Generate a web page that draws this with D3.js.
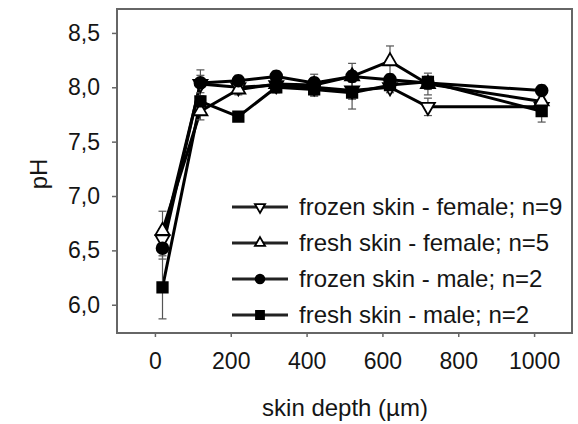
<!DOCTYPE html>
<html>
<head>
<meta charset="utf-8">
<script src="https://cdn.jsdelivr.net/npm/d3@7"></script>
<style>
  html, body { margin: 0; padding: 0; background: #fff; }
  svg { display: block; font-family: "Liberation Sans", Arial, Helvetica, sans-serif; }
</style>
</head>
<body>
<svg id="chart" width="578" height="424"></svg>
<script>
// Skin depth (µm) at which pH was measured
const depths = [20, 120, 220, 320, 420, 520, 620, 720, 1020];

// Mean pH per depth for each group
const frozenFemale = [6.60, 8.03, 8.00, 8.02, 8.00, 7.97, 8.00, 7.82, 7.82];
const freshFemale  = [6.68, 7.78, 7.98, 8.03, 8.02, 8.10, 8.24, 8.03, 7.87];
const frozenMale   = [6.52, 8.04, 8.06, 8.10, 8.04, 8.10, 8.07, 8.04, 7.97];
const freshMale    = [6.16, 7.87, 7.73, 8.00, 7.98, 7.95, 8.02, 8.05, 7.78];

// Standard deviations (error bars)
const frozenFemaleSd = [0.10, 0.08, 0.05, 0.05, 0.06, 0.08, 0.05, 0.08, 0.06];
const freshFemaleSd  = [0.18, 0.08, 0.05, 0.05, 0.10, 0.12, 0.14, 0.10, 0.08];
const frozenMaleSd   = [0.10, 0.12, 0.05, 0.05, 0.05, 0.05, 0.05, 0.06, 0.05];
const freshMaleSd    = [0.29, 0.05, 0.03, 0.05, 0.06, 0.15, 0.05, 0.05, 0.10];

const seriesNames = [
  "frozen skin - female; n=9",
  "fresh skin - female; n=5",
  "frozen skin - male; n=2",
  "fresh skin - male; n=2"
];
const seriesSymbols = ["triangleDown", "triangleUp", "circle", "square"];

const xTicks = [0, 200, 400, 600, 800, 1000];
const yTicks = [6.0, 6.5, 7.0, 7.5, 8.0, 8.5];
const yTickLabels = ["6,0", "6,5", "7,0", "7,5", "8,0", "8,5"];

const xTitle = "skin depth (µm)";
const yTitle = "pH";

const series = [
  { name: seriesNames[0], symbol: seriesSymbols[0], values: frozenFemale, sd: frozenFemaleSd },
  { name: seriesNames[1], symbol: seriesSymbols[1], values: freshFemale,  sd: freshFemaleSd },
  { name: seriesNames[2], symbol: seriesSymbols[2], values: frozenMale,   sd: frozenMaleSd },
  { name: seriesNames[3], symbol: seriesSymbols[3], values: freshMale,    sd: freshMaleSd }
];

const svg = d3.select("#chart");
const plot = { left: 117, right: 572, top: 9, bottom: 333 };

const x = d3.scaleLinear().domain([-100, 1100]).range([plot.left, plot.right]);
const y = d3.scaleLinear().domain([5.74, 8.72]).range([plot.bottom, plot.top]);

const axisColor = "#666";
const textColor = "#151515";

// Axes
const gx = svg.append("g")
  .attr("transform", `translate(0,${plot.bottom})`)
  .call(d3.axisBottom(x).tickValues(xTicks).tickFormat(d3.format("d")).tickSize(4).tickSizeOuter(0).tickPadding(16));
const gy = svg.append("g")
  .attr("transform", `translate(${plot.left},0)`)
  .call(d3.axisLeft(y).tickValues(yTicks).tickFormat((d, i) => yTickLabels[i]).tickSize(5).tickSizeOuter(0).tickPadding(12));

[gx, gy].forEach(g => {
  g.select(".domain").remove();
  g.selectAll(".tick line").attr("stroke", axisColor).attr("stroke-width", 1.5);
  g.selectAll(".tick text").attr("fill", textColor).attr("font-size", 23);
});

// Frame around the plotting area
svg.append("rect")
  .attr("x", plot.left).attr("y", plot.top)
  .attr("width", plot.right - plot.left).attr("height", plot.bottom - plot.top)
  .attr("fill", "none").attr("stroke", axisColor).attr("stroke-width", 2);

// Axis titles
svg.append("text")
  .attr("x", 345).attr("y", 416)
  .attr("text-anchor", "middle").attr("font-size", 24).attr("fill", textColor)
  .text(xTitle);
svg.append("text")
  .attr("transform", "translate(47,174) rotate(-90)")
  .attr("text-anchor", "middle").attr("font-size", 24).attr("fill", textColor)
  .text(yTitle);

const symbolType = {
  circle: d3.symbolCircle,
  square: d3.symbolSquare,
  triangleUp: d3.symbolTriangle,
  triangleDown: d3.symbolTriangle
};

function drawSymbol(sel, kind, size) {
  sel.attr("d", d3.symbol().type(symbolType[kind]).size(size)())
    .attr("fill", (kind === "circle" || kind === "square") ? "#000" : "#fff")
    .attr("stroke", "#000")
    .attr("stroke-width", 1.8);
}

const line = d3.line().x((d, i) => x(depths[i])).y(d => y(d));

const gLines = svg.append("g");
series.forEach(s => {
  gLines.append("path")
    .datum(s.values)
    .attr("d", line)
    .attr("fill", "none")
    .attr("stroke", "#000")
    .attr("stroke-width", 3)
    .attr("stroke-linejoin", "round");
});

// Error bars
const gErr = svg.append("g").attr("stroke", "#555").attr("stroke-width", 1.2);
series.forEach(s => {
  s.values.forEach((v, i) => {
    const cx = x(depths[i]);
    const y1 = y(v - s.sd[i]), y2 = y(v + s.sd[i]);
    gErr.append("line").attr("x1", cx).attr("x2", cx).attr("y1", y1).attr("y2", y2);
    gErr.append("line").attr("x1", cx - 4).attr("x2", cx + 4).attr("y1", y1).attr("y2", y1);
    gErr.append("line").attr("x1", cx - 4).attr("x2", cx + 4).attr("y1", y2).attr("y2", y2);
  });
});

// Markers
const gMarks = svg.append("g");
series.forEach(s => {
  const sizes = { circle: 110, square: 110, triangleUp: 85, triangleDown: 85 };
  s.values.forEach((v, i) => {
    const rot = s.symbol === "triangleDown" ? " rotate(180)" : "";
    gMarks.append("path")
      .attr("transform", `translate(${x(depths[i])},${y(v)})${rot}`)
      .call(drawSymbol, s.symbol, sizes[s.symbol]);
  });
});

// Legend
const legendRows = [207, 243, 279, 315];
const legend = svg.append("g");
series.forEach((s, i) => {
  const ly = legendRows[i];
  legend.append("line")
    .attr("x1", 232).attr("x2", 288).attr("y1", ly).attr("y2", ly)
    .attr("stroke", "#222").attr("stroke-width", 2.8);
  const rot = s.symbol === "triangleDown" ? " rotate(180)" : "";
  const sizes = { circle: 60, square: 64, triangleUp: 45, triangleDown: 45 };
  legend.append("path")
    .attr("transform", `translate(260,${ly})${rot}`)
    .call(drawSymbol, s.symbol, sizes[s.symbol]);
  legend.append("text")
    .attr("x", 299).attr("y", ly).attr("dy", "0.35em")
    .attr("font-size", 24).attr("fill", textColor)
    .text(s.name);
});
</script>
</body>
</html>
